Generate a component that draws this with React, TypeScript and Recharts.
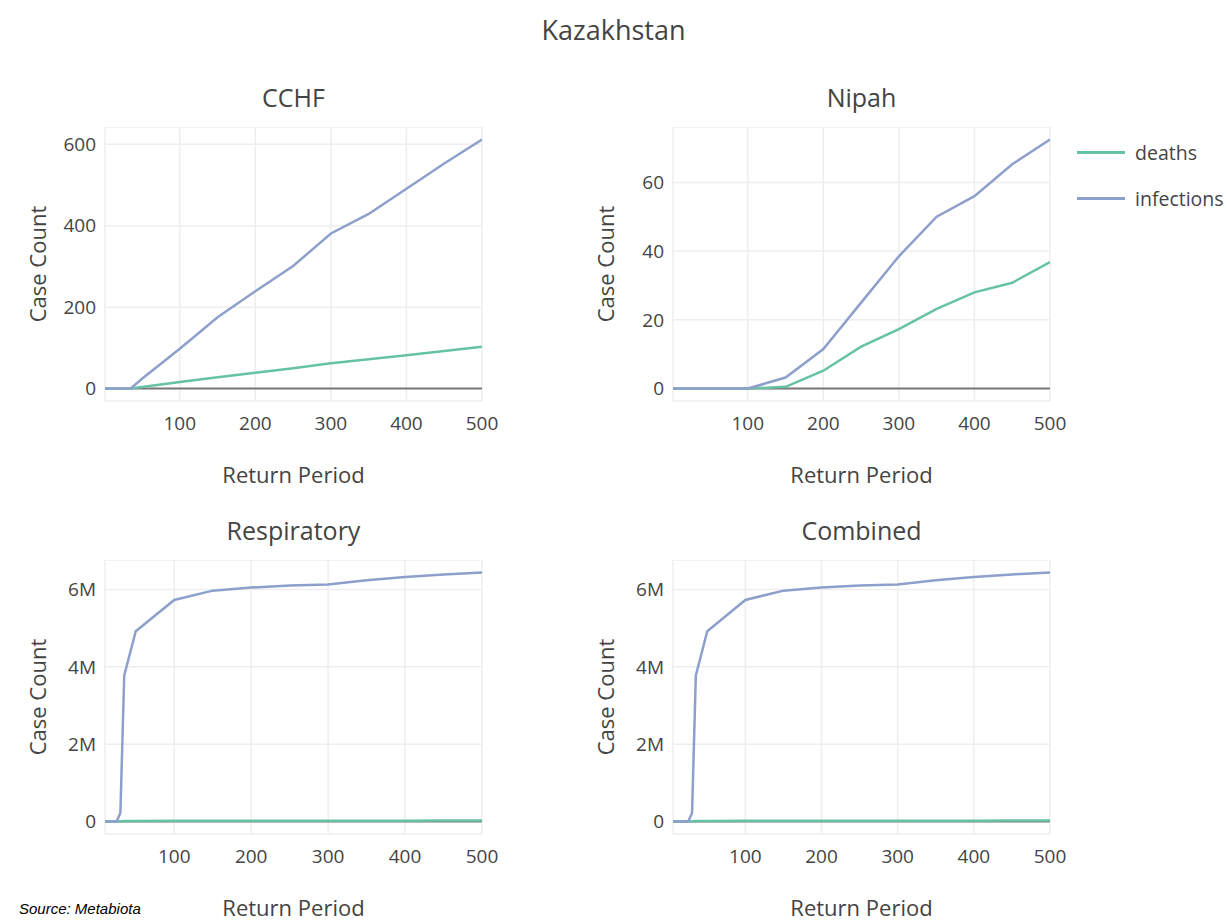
import React from "react";
import { CartesianGrid, Legend, Line, LineChart, ReferenceLine, XAxis, YAxis } from "recharts";

// return periods (years) and case counts per disease group
const cchfPeriods = [1, 35, 50, 100, 150, 200, 250, 300, 350, 400, 450, 500];
const cchfDeaths = [0, 0, 4, 16, 28, 39, 50, 62, 72, 82, 92, 103];
const cchfInfections = [0, 0, 24, 98, 175, 239, 301, 381, 429, 491, 553, 612];

const nipahPeriods = [1, 100, 150, 200, 250, 300, 350, 400, 450, 500];
const nipahDeaths = [0, 0, 0.5, 5.2, 12.2, 17.3, 23.2, 28, 30.8, 36.8];
const nipahInfections = [0, 0, 3.2, 11.5, 25, 38.5, 50, 56, 65.3, 72.5];

const respiratoryPeriods = [10, 25, 30, 35, 50, 100, 150, 200, 250, 300, 350, 400, 450, 500];
const respiratoryDeaths = [0, 0, 800, 13000, 17000, 20000, 21000, 21500, 22000, 22500, 23000, 23500, 24000, 24500];
const respiratoryInfections = [
  0, 0, 220000, 3780000, 4920000, 5730000, 5970000, 6050000, 6100000, 6130000, 6240000, 6320000, 6390000, 6440000,
];

const combinedPeriods = [5, 25, 30, 35, 50, 100, 150, 200, 250, 300, 350, 400, 450, 500];
const combinedDeaths = [0, 0, 800, 13000, 17000, 20000, 21000, 21500, 22100, 22600, 23100, 23600, 24100, 24600];
const combinedInfections = [
  0, 0, 220000, 3780000, 4920000, 5730000, 5970000, 6050000, 6100000, 6130000, 6240000, 6320000, 6390000, 6440000,
];

const xTicks = [100, 200, 300, 400, 500];
const cchfTicks = [0, 200, 400, 600];
const nipahTicks = [0, 20, 40, 60];
const millionTicks = [0, 2000000, 4000000, 6000000];

const DEATHS = "#66c2a5";
const INFECTIONS = "#8da0cb";
const TEXT = "#444";
const PLOT_W = 377;
const PLOT_H = 274;
const LEFT_COL = 105;
const RIGHT_COL = 673;
const TOP_ROW = 127;
const BOTTOM_ROW = 560;

type Row = { period: number; deaths: number; infections: number };

const toRows = (periods: number[], deaths: number[], infections: number[]): Row[] =>
  periods.map((period, i) => ({ period, deaths: deaths[i], infections: infections[i] }));

const millions = (v: number) => (v === 0 ? "0" : `${v / 1000000}M`);

function LegendBox(props: any) {
  const items = props.payload || [];
  return (
    <div>
      {items.map((item: any) => (
        <div key={item.value} style={{ display: "flex", alignItems: "center", height: 46 }}>
          <div style={{ width: 48, height: 3, background: item.color, marginRight: 10 }} />
          <span style={{ fontSize: 19.5, color: TEXT, whiteSpace: "nowrap" }}>{item.value}</span>
        </div>
      ))}
    </div>
  );
}

type PanelProps = {
  title: string;
  left: number;
  top: number;
  rows: Row[];
  yTicks: number[];
  yFormat?: (v: number) => string;
  legend?: boolean;
};

function Panel({ title, left, top, rows, yTicks, yFormat, legend }: PanelProps) {
  const values = rows.flatMap((r) => [r.deaths, r.infections]);
  const lo = Math.min(...values);
  const hi = Math.max(...values);
  const pad = (hi - lo) * 0.05;
  const xStart = rows[0].period;
  const right = legend ? 1227 - (left + PLOT_W) : 20;

  return (
    <>
      <div
        style={{
          position: "absolute",
          left,
          top: top - 46,
          width: PLOT_W,
          textAlign: "center",
          fontSize: 25,
          lineHeight: "32px",
          color: TEXT,
        }}
      >
        {title}
      </div>
      <div style={{ position: "absolute", left: left - 100, top }}>
        <LineChart
          width={100 + PLOT_W + right}
          height={PLOT_H + 100}
          data={rows}
          margin={{ top: 0, right, bottom: 0, left: 0 }}
        >
          <CartesianGrid stroke="#eee" strokeWidth={1.5} />
          <XAxis
            type="number"
            dataKey="period"
            domain={[xStart, 500]}
            ticks={xTicks}
            allowDataOverflow
            axisLine={false}
            tickLine={false}
            tickMargin={10}
            height={100}
            tick={{ fontSize: 19, fill: TEXT }}
            label={{ value: "Return Period", position: "insideTop", offset: 66, style: { fontSize: 22, fill: TEXT } }}
          />
          <YAxis
            type="number"
            domain={[lo - pad, hi + pad]}
            ticks={yTicks}
            allowDataOverflow
            axisLine={false}
            tickLine={false}
            tickMargin={3}
            width={100}
            tickFormatter={yFormat}
            tick={{ fontSize: 19, fill: TEXT }}
            label={{
              value: "Case Count",
              angle: -90,
              position: "insideLeft",
              offset: 33,
              style: { textAnchor: "middle", fontSize: 22, fill: TEXT },
            }}
          />
          <ReferenceLine y={0} stroke="#777" strokeWidth={2} />
          <Line
            type="linear"
            dataKey="deaths"
            name="deaths"
            stroke={DEATHS}
            strokeWidth={2.5}
            dot={false}
            isAnimationActive={false}
          />
          <Line
            type="linear"
            dataKey="infections"
            name="infections"
            stroke={INFECTIONS}
            strokeWidth={2.5}
            dot={false}
            isAnimationActive={false}
          />
          {legend && (
            <Legend
              layout="vertical"
              align="center"
              verticalAlign="middle"
              content={<LegendBox />}
              wrapperStyle={{ left: 1077 - (left - 100), top: 152 - 23 - top, width: 160 }}
            />
          )}
        </LineChart>
      </div>
    </>
  );
}

export default function App() {
  return (
    <div
      style={{
        position: "absolute",
        left: 0,
        top: 0,
        width: 1227,
        height: 922,
        overflow: "hidden",
        background: "#fff",
        fontFamily: "'Open Sans', sans-serif",
      }}
    >
      <div
        style={{
          position: "absolute",
          left: 0,
          top: 13,
          width: 1227,
          textAlign: "center",
          fontSize: 27,
          lineHeight: "34px",
          color: TEXT,
        }}
      >
        Kazakhstan
      </div>
      <Panel
        title="CCHF"
        left={LEFT_COL}
        top={TOP_ROW}
        rows={toRows(cchfPeriods, cchfDeaths, cchfInfections)}
        yTicks={cchfTicks}
      />
      <Panel
        title="Nipah"
        left={RIGHT_COL}
        top={TOP_ROW}
        rows={toRows(nipahPeriods, nipahDeaths, nipahInfections)}
        yTicks={nipahTicks}
        legend
      />
      <Panel
        title="Respiratory"
        left={LEFT_COL}
        top={BOTTOM_ROW}
        rows={toRows(respiratoryPeriods, respiratoryDeaths, respiratoryInfections)}
        yTicks={millionTicks}
        yFormat={millions}
      />
      <Panel
        title="Combined"
        left={RIGHT_COL}
        top={BOTTOM_ROW}
        rows={toRows(combinedPeriods, combinedDeaths, combinedInfections)}
        yTicks={millionTicks}
        yFormat={millions}
      />
      <div
        style={{
          position: "absolute",
          left: 19,
          top: 899,
          fontFamily: "'Liberation Sans', Arial, sans-serif",
          fontStyle: "italic",
          fontSize: 15,
          lineHeight: "19px",
          color: "#000",
          whiteSpace: "nowrap",
        }}
      >
        Source: Metabiota
      </div>
    </div>
  );
}
